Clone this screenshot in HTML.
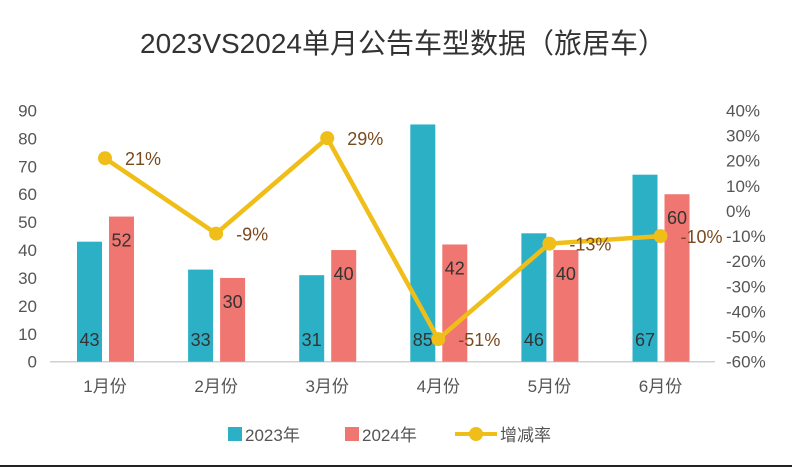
<!DOCTYPE html>
<html><head><meta charset="utf-8"><style>
body{margin:0;background:#fff;}
svg{display:block;font-family:"Liberation Sans","Noto Sans CJK SC",sans-serif;}
</style></head><body>
<svg id="c" width="792" height="467">
<text x="403" y="53" text-anchor="middle" font-size="28" fill="#333">2023VS2024单月公告车型数据（旅居车）</text>
<line x1="0" x2="792" y1="466" y2="466" stroke="#222" stroke-width="2"/>
</svg>
<script>
const categories=["1月份","2月份","3月份","4月份","5月份","6月份"];
const v2023=[43,33,31,85,46,67];
const v2024=[52,30,40,42,40,60];
const growth=[21,-9,29,-51,-13,-10];
const leftTicks=[0,10,20,30,40,50,60,70,80,90];
const rightTicks=[-60,-50,-40,-30,-20,-10,0,10,20,30,40];
const NS="http://www.w3.org/2000/svg";
const svg=document.getElementById('c');
const y0=361.7,yTop=110.5;
const yL=v=>y0-(v/90)*(y0-yTop);
const yR=v=>y0-((v+60)/100)*(y0-yTop);
const xC=i=>105+i*111.1;
function mk(t,a,txt){const e=document.createElementNS(NS,t);for(const k in a)e.setAttribute(k,a[k]);if(txt!==undefined)e.textContent=txt;svg.appendChild(e);return e;}
leftTicks.forEach(v=>{const e=mk('text',{x:37,y:yL(v)+6,'text-anchor':'end','font-size':17,fill:'#555'},v);

});
rightTicks.forEach(v=>{const e=mk('text',{x:726,y:yR(v)+6,'font-size':17,fill:'#555'},v+'%');

});
const ax=mk('line',{x1:50,x2:715,y1:y0,y2:y0,stroke:'#d0d0d0','stroke-width':1.5});


categories.forEach((c,i)=>{
 const x=xC(i);
 const b1=mk('rect',{x:x-28,y:yL(v2023[i]),width:25,height:y0-yL(v2023[i]),fill:'#2BB0C6'});
 
 
 const b2=mk('rect',{x:x+4,y:yL(v2024[i]),width:25,height:y0-yL(v2024[i]),fill:'#F07671'});
 
 
 const l1=mk('text',{x:x-15.5,y:346,'text-anchor':'middle','font-size':18,fill:'#333'},v2023[i]);
 
 
 const l2=mk('text',{x:x+16.5,y:yL(v2024[i])+30,'text-anchor':'middle','font-size':18,fill:'#333'},v2024[i]);
 
 
 const xl=mk('text',{x:x,y:392,'text-anchor':'middle','font-size':17,fill:'#555'},c);
 
 
});
const pl=mk('polyline',{points:growth.map((g,i)=>xC(i)+','+yR(g)).join(' '),fill:'none',stroke:'#F0BE19','stroke-width':4.5,'stroke-linejoin':'round'});


growth.forEach((g,i)=>{
 const p=mk('circle',{cx:xC(i),cy:yR(g),r:7,fill:'#F0BE19'});
 
 
 const t=mk('text',{x:xC(i)+20,y:yR(g)+7,'font-size':18,fill:'#7A4A1E'},g+'%');
 
 
});
const lg=[[228,'#2BB0C6','2023年'],[345,'#F07671','2024年']];
lg.forEach(l=>{const r=mk('rect',{x:l[0],y:427,width:14,height:14,fill:l[1]});


const t=mk('text',{x:l[0]+17,y:441,'font-size':17,fill:'#555'},l[2]);

});
const ll=mk('line',{x1:455,x2:497,y1:434,y2:434,stroke:'#F0BE19','stroke-width':4});


const lc=mk('circle',{cx:476,cy:434,r:7,fill:'#F0BE19'});


const lt=mk('text',{x:500,y:441,'font-size':17,fill:'#555'},'增减率');


</script>
</body></html>
